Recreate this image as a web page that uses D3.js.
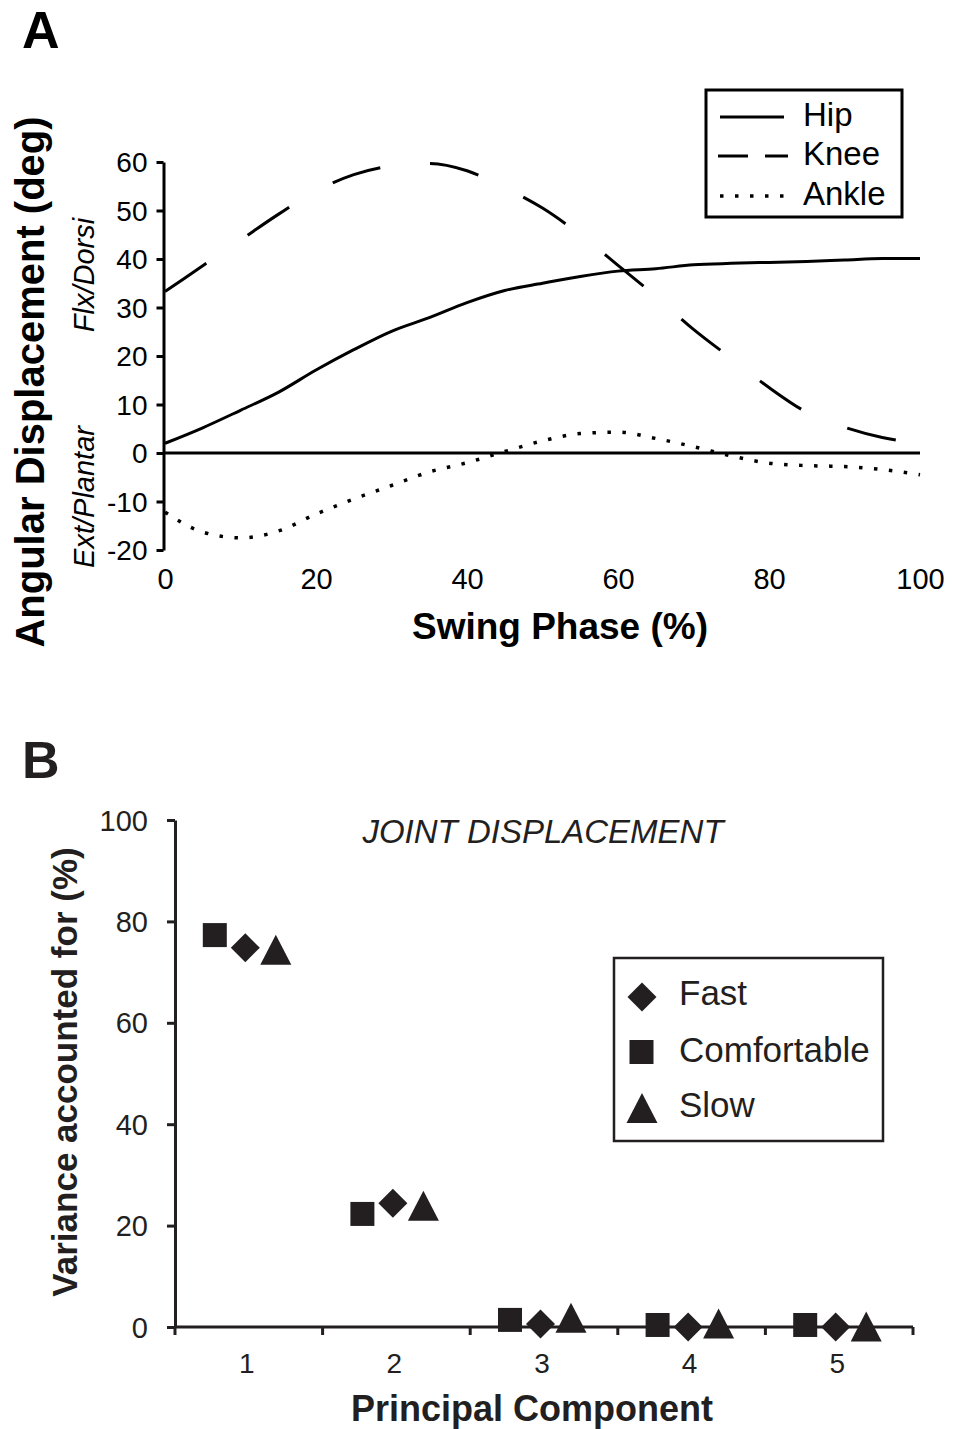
<!DOCTYPE html>
<html><head><meta charset="utf-8">
<script src="https://cdn.jsdelivr.net/npm/d3@7"></script>
<style>body{margin:0;background:#fff}</style>
</head><body><div id="chart"></div>
<script>
// ---------- DATA: Panel A (angular displacement over swing phase) ----------
const swingPct = [0,5,10,15,20,25,30,35,40,45,50,55,60,65,70,75,80,85,90,95,100];
const hip   = [2.0,5.2,8.8,12.5,17.1,21.3,25.1,27.9,31.0,33.5,35.0,36.4,37.5,38.0,38.8,39.1,39.3,39.5,39.8,40.1,40.1];
const knee  = [33.3,38.6,43.9,49.2,54.0,57.4,59.2,59.7,58.2,54.7,50.5,45.0,38.7,32.3,25.5,19.5,13.5,8.4,5.3,3.2,2.0];
const ankle = [-12.2,-16.3,-17.5,-16.1,-12.6,-9.5,-6.7,-3.9,-2.0,0.3,2.5,4.0,4.3,3.0,1.3,-0.6,-2.1,-2.6,-2.8,-3.4,-4.5];
const yTicksA = [-20,-10,0,10,20,30,40,50,60];
const xTicksA = [0,20,40,60,80,100];
const jointNames = ["Hip","Knee","Ankle"];

// ---------- DATA: Panel B (variance accounted for) ----------
const components  = ["1","2","3","4","5"];
const fast        = [74.8,24.4,0.6,0.0,0.0];
const comfortable = [77.3,22.3,1.4,0.4,0.4];
const slow        = [74.4,23.9,1.8,0.7,0.1];
const yTicksB = [0,20,40,60,80,100];
const speedNames = ["Fast","Comfortable","Slow"];

// ---------- SETUP ----------
const W = 953, H = 1429;
const FONT = "'Liberation Sans', Arial, Helvetica, sans-serif";
const INK_A = "#000", INK_B = "#231f20";
const plain = d => String(d);
const svg = d3.select("#chart").append("svg")
  .attr("width", W).attr("height", H)
  .style("font-family", FONT);
svg.append("rect").attr("width", W).attr("height", H).attr("fill", "#fff");

// ================= PANEL A =================
const xA = d3.scaleLinear().domain([0,100]).range([165,920]);
const yA = d3.scaleLinear().domain([-20,60]).range([550,162]);
const axisXA = 163.5;

const gyA = svg.append("g").attr("transform", `translate(${axisXA},0)`)
  .call(d3.axisLeft(yA).tickValues(yTicksA).tickSize(7).tickSizeOuter(0).tickPadding(9).tickFormat(plain));
gyA.select(".domain").attr("stroke", INK_A).attr("stroke-width", 3);
gyA.selectAll(".tick line").attr("stroke", INK_A).attr("stroke-width", 3);
gyA.selectAll(".tick text").attr("font-size", 28).attr("font-family", FONT).attr("fill", INK_A).attr("dy", "0.35em");

// zero line
svg.append("line")
  .attr("x1", axisXA).attr("x2", xA(100))
  .attr("y1", yA(0)).attr("y2", yA(0))
  .attr("stroke", INK_A).attr("stroke-width", 3);

// x tick labels (no tick marks)
const gxA = svg.append("g").attr("transform", `translate(0,${yA(-20)})`)
  .call(d3.axisBottom(xA).tickValues(xTicksA).tickSize(0).tickPadding(18).tickFormat(plain));
gxA.select(".domain").remove();
gxA.selectAll(".tick text").attr("font-size", 29).attr("font-family", FONT).attr("fill", INK_A);

// lines
const lineA = vals => d3.line()
  .x((d,i) => xA(swingPct[i]))
  .y(d => yA(d))
  .curve(d3.curveMonotoneX)(vals);

const styles = {
  Hip:   {w:3,   dash:null},
  Knee:  {w:3,   dash:"50,50"},
  Ankle: {w:3.5, dash:"3.5,11.5"}
};
const seriesA = [hip, knee, ankle];
seriesA.forEach((vals, k) => {
  const st = styles[jointNames[k]];
  svg.append("path").attr("d", lineA(vals))
    .attr("fill", "none").attr("stroke", INK_A)
    .attr("stroke-width", st.w)
    .attr("stroke-dasharray", st.dash);
});

// legend A
svg.append("rect").attr("x", 706).attr("y", 90).attr("width", 196).attr("height", 127)
  .attr("fill", "#fff").attr("stroke", INK_A).attr("stroke-width", 3);
const legA = [
  {name:"Hip",   y:117, x1:720, x2:784, dash:null,       w:3},
  {name:"Knee",  y:156, x1:718, x2:788, dash:"30,17",    w:3},
  {name:"Ankle", y:196, x1:720, x2:784, dash:"3.5,11.5", w:3.5}
];
legA.forEach(d => {
  svg.append("line").attr("x1", d.x1).attr("x2", d.x2).attr("y1", d.y).attr("y2", d.y)
    .attr("stroke", INK_A).attr("stroke-width", d.w).attr("stroke-dasharray", d.dash);
  svg.append("text").attr("x", 803).attr("y", d.y + 8.5)
    .attr("font-size", 33).attr("fill", INK_A).text(d.name);
});

// titles A
svg.append("text").attr("x", 22).attr("y", 48).attr("font-size", 52).attr("font-weight", "bold").attr("fill", INK_A).text("A");
svg.append("text").attr("transform", "translate(44,382) rotate(-90)").attr("text-anchor", "middle")
  .attr("font-size", 40).attr("font-weight", "bold").attr("fill", INK_A).text("Angular Displacement (deg)");
svg.append("text").attr("transform", "translate(94,275) rotate(-90)").attr("text-anchor", "middle")
  .attr("font-size", 29).attr("font-style", "italic").attr("fill", INK_A).text("Flx/Dorsi");
svg.append("text").attr("transform", "translate(94,497) rotate(-90)").attr("text-anchor", "middle")
  .attr("font-size", 29).attr("font-style", "italic").attr("fill", INK_A).text("Ext/Plantar");
svg.append("text").attr("x", 560).attr("y", 639).attr("text-anchor", "middle")
  .attr("font-size", 37).attr("font-weight", "bold").attr("fill", INK_A).text("Swing Phase (%)");

// ================= PANEL B =================
const xB = d3.scaleBand().domain(components).range([175,913]);
const yB = d3.scaleLinear().domain([0,100]).range([1327,820]);
const bw = xB.bandwidth();

const gyB = svg.append("g").attr("transform", "translate(175,0)")
  .call(d3.axisLeft(yB).tickValues(yTicksB).tickSize(8).tickSizeOuter(0).tickPadding(19).tickFormat(plain));
gyB.select(".domain").attr("stroke", INK_B).attr("stroke-width", 3);
gyB.selectAll(".tick line").attr("stroke", INK_B).attr("stroke-width", 3);
gyB.selectAll(".tick text").attr("font-size", 29).attr("font-family", FONT).attr("fill", INK_B).attr("dy", "0.35em");

const gxB = svg.append("g").attr("transform", `translate(-2,${yB(0)})`)
  .call(d3.axisBottom(xB).tickSize(0).tickPadding(26));
gxB.select(".domain").remove();
gxB.selectAll(".tick text").attr("font-size", 28).attr("font-family", FONT).attr("fill", INK_B);
svg.append("line").attr("x1", xB.range()[0]).attr("x2", xB.range()[1])
  .attr("y1", yB(0)).attr("y2", yB(0)).attr("stroke", INK_B).attr("stroke-width", 3);
const bounds = components.map(c => xB(c)).concat([xB.range()[1]]);
svg.append("g").selectAll("line").data(bounds).join("line")
  .attr("x1", d => d).attr("x2", d => d)
  .attr("y1", yB(0)).attr("y2", yB(0) + 8)
  .attr("stroke", INK_B).attr("stroke-width", 3);

// marker shapes (centered at bbox center)
const shape = {
  Fast:        () => "M0,-14.5L14.5,0L0,14.5L-14.5,0Z",
  Comfortable: () => "M-12,-12H12V12H-12Z",
  Slow:        () => "M0,-15L15.5,15H-15.5Z"
};
const offsets = {Comfortable:-34, Fast:-3.5, Slow:27};
const seriesB = {Fast: fast, Comfortable: comfortable, Slow: slow};

["Comfortable","Fast","Slow"].forEach(name => {
  svg.append("g").selectAll("path").data(seriesB[name]).join("path")
    .attr("transform", (d,i) => `translate(${xB(components[i]) + bw/2 + offsets[name]},${yB(d)})`)
    .attr("d", shape[name]())
    .attr("fill", INK_B);
});

// legend B
svg.append("rect").attr("x", 614).attr("y", 958).attr("width", 269).attr("height", 183)
  .attr("fill", "#fff").attr("stroke", INK_B).attr("stroke-width", 2.5);
const legB = [
  {name:"Fast",        cx:642,   cy:997,  ty:1005},
  {name:"Comfortable", cx:641.5, cy:1052, ty:1062},
  {name:"Slow",        cx:642,   cy:1108, ty:1117}
];
legB.forEach(d => {
  svg.append("path").attr("transform", `translate(${d.cx},${d.cy})`).attr("d", shape[d.name]()).attr("fill", INK_B);
  svg.append("text").attr("x", 679).attr("y", d.ty).attr("font-size", 35).attr("fill", INK_B).text(d.name);
});

// titles B
svg.append("text").attr("x", 22).attr("y", 778).attr("font-size", 52).attr("font-weight", "bold").attr("fill", INK_B).text("B");
svg.append("text").attr("x", 543).attr("y", 843).attr("text-anchor", "middle")
  .attr("font-size", 33).attr("font-style", "italic").attr("fill", INK_B).text("JOINT DISPLACEMENT");
svg.append("text").attr("transform", "translate(77,1072) rotate(-90)").attr("text-anchor", "middle")
  .attr("font-size", 35).attr("font-weight", "bold").attr("fill", INK_B).text("Variance accounted for (%)");
svg.append("text").attr("x", 532).attr("y", 1421).attr("text-anchor", "middle")
  .attr("font-size", 36).attr("font-weight", "bold").attr("fill", INK_B).text("Principal Component");
</script>
</body></html>
